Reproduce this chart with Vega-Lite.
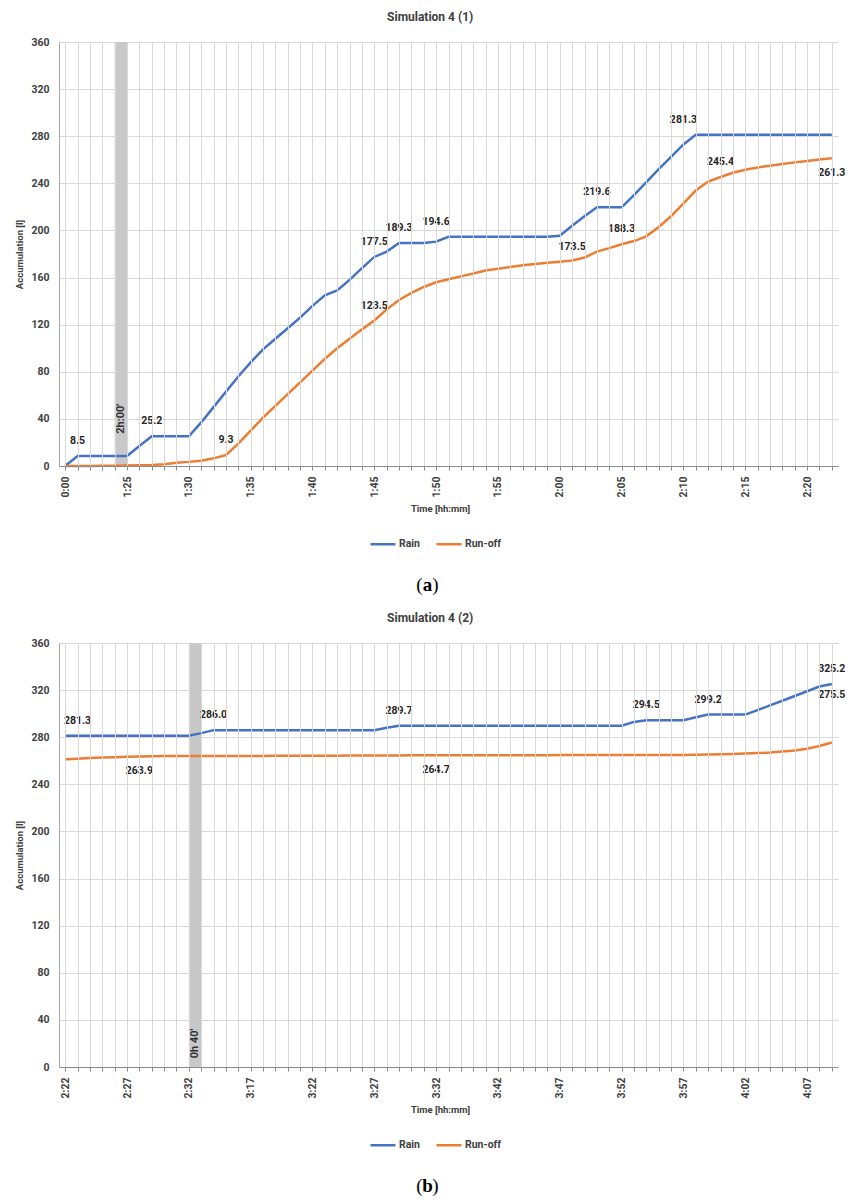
{
  "$schema": "https://vega.github.io/schema/vega-lite/v6.json",
  "background": "white",
  "padding": {"top": 11, "left": 14, "right": 4, "bottom": 0},
  "spacing": 0,
  "config": {
    "font": "Roboto",
    "view": {"stroke": null},
    "title": {"fontSize": 12, "fontWeight": "bold", "color": "#404040", "offset": 13, "anchor": "middle", "frame": "bounds"},
    "axisX": {
      "labelAngle": 270, "labelAlign": "right", "labelBaseline": "middle",
      "labelFontSize": 10.5, "labelFontWeight": "bold", "labelColor": "#404040",
      "labelPadding": 6, "labelOverlap": false,
      "grid": true, "gridColor": "#d9d9d9", "gridWidth": 1,
      "domainColor": "#8c8c8c", "tickColor": "#8c8c8c", "tickSize": 4,
      "titleFontSize": 9.5, "titleFontWeight": "bold", "titleColor": "#404040", "titlePadding": 6, "titleX": 381
    },
    "axisY": {
      "labelFontSize": 10.5, "labelFontWeight": "bold", "labelColor": "#404040",
      "labelPadding": 10, "ticks": false,
      "grid": true, "gridColor": "#d9d9d9", "gridWidth": 1,
      "domainColor": "#a6a6a6",
      "titleFontSize": 9.5, "titleFontWeight": "bold", "titleColor": "#404040", "titlePadding": 6
    },
    "legend": {
      "orient": "none", "legendX": 310, "legendY": 488, "direction": "horizontal",
      "symbolType": "stroke", "symbolSize": 625, "symbolStrokeWidth": 2.5,
      "labelFontSize": 10.5, "labelFontWeight": "bold", "labelColor": "#404040",
      "labelOffset": 2, "columnPadding": 10
    }
  },
  "datasets": {
    "simA": [
      {"time": "0:00", "Rain": 0, "Run-off": 0},
      {"time": "0:01", "Rain": 8.5, "Run-off": 0},
      {"time": "0:02", "Rain": 8.5, "Run-off": 0},
      {"time": "0:03", "Rain": 8.5, "Run-off": 0.2},
      {"time": "0:04", "Rain": 8.5, "Run-off": 0.3},
      {"time": "1:25", "Rain": 8.5, "Run-off": 0.5},
      {"time": "1:26", "Rain": 17, "Run-off": 0.7},
      {"time": "1:27", "Rain": 25.2, "Run-off": 0.9},
      {"time": "1:28", "Rain": 25.2, "Run-off": 1.5},
      {"time": "1:29", "Rain": 25.2, "Run-off": 2.8},
      {"time": "1:30", "Rain": 25.2, "Run-off": 3.5},
      {"time": "1:31", "Rain": 37, "Run-off": 4.5},
      {"time": "1:32", "Rain": 50, "Run-off": 6.5},
      {"time": "1:33", "Rain": 63, "Run-off": 9.3},
      {"time": "1:34", "Rain": 76, "Run-off": 19},
      {"time": "1:35", "Rain": 88, "Run-off": 30},
      {"time": "1:36", "Rain": 99, "Run-off": 41},
      {"time": "1:37", "Rain": 108, "Run-off": 51},
      {"time": "1:38", "Rain": 117, "Run-off": 61},
      {"time": "1:39", "Rain": 126, "Run-off": 71},
      {"time": "1:40", "Rain": 136, "Run-off": 81},
      {"time": "1:41", "Rain": 145, "Run-off": 91},
      {"time": "1:42", "Rain": 149, "Run-off": 100},
      {"time": "1:43", "Rain": 158, "Run-off": 108},
      {"time": "1:44", "Rain": 168, "Run-off": 116},
      {"time": "1:45", "Rain": 177.5, "Run-off": 123.5},
      {"time": "1:46", "Rain": 182, "Run-off": 133},
      {"time": "1:47", "Rain": 189.3, "Run-off": 141},
      {"time": "1:48", "Rain": 189.3, "Run-off": 147},
      {"time": "1:49", "Rain": 189.3, "Run-off": 152},
      {"time": "1:50", "Rain": 190.5, "Run-off": 156},
      {"time": "1:51", "Rain": 194.6, "Run-off": 158.5},
      {"time": "1:52", "Rain": 194.6, "Run-off": 161},
      {"time": "1:53", "Rain": 194.6, "Run-off": 163.5},
      {"time": "1:54", "Rain": 194.6, "Run-off": 166},
      {"time": "1:55", "Rain": 194.6, "Run-off": 167.5},
      {"time": "1:56", "Rain": 194.6, "Run-off": 169},
      {"time": "1:57", "Rain": 194.6, "Run-off": 170.5},
      {"time": "1:58", "Rain": 194.6, "Run-off": 171.5},
      {"time": "1:59", "Rain": 194.6, "Run-off": 172.5},
      {"time": "2:00", "Rain": 195.5, "Run-off": 173.5},
      {"time": "2:01", "Rain": 204, "Run-off": 174.5},
      {"time": "2:02", "Rain": 212, "Run-off": 177},
      {"time": "2:03", "Rain": 219.6, "Run-off": 182},
      {"time": "2:04", "Rain": 219.6, "Run-off": 185},
      {"time": "2:05", "Rain": 219.6, "Run-off": 188.3},
      {"time": "2:06", "Rain": 230, "Run-off": 191},
      {"time": "2:07", "Rain": 241, "Run-off": 195},
      {"time": "2:08", "Rain": 252, "Run-off": 203},
      {"time": "2:09", "Rain": 262.5, "Run-off": 212},
      {"time": "2:10", "Rain": 273, "Run-off": 223},
      {"time": "2:11", "Rain": 281.3, "Run-off": 234},
      {"time": "2:12", "Rain": 281.3, "Run-off": 241.5},
      {"time": "2:13", "Rain": 281.3, "Run-off": 245.4},
      {"time": "2:14", "Rain": 281.3, "Run-off": 249},
      {"time": "2:15", "Rain": 281.3, "Run-off": 251.5},
      {"time": "2:16", "Rain": 281.3, "Run-off": 253.5},
      {"time": "2:17", "Rain": 281.3, "Run-off": 255},
      {"time": "2:18", "Rain": 281.3, "Run-off": 256.5},
      {"time": "2:19", "Rain": 281.3, "Run-off": 257.8},
      {"time": "2:20", "Rain": 281.3, "Run-off": 259},
      {"time": "2:21", "Rain": 281.3, "Run-off": 260.2},
      {"time": "2:22", "Rain": 281.3, "Run-off": 261.3}
    ],
    "simB": [
      {"time": "2:22", "Rain": 281.3, "Run-off": 261.3},
      {"time": "2:23", "Rain": 281.3, "Run-off": 261.8},
      {"time": "2:24", "Rain": 281.3, "Run-off": 262.3},
      {"time": "2:25", "Rain": 281.3, "Run-off": 262.7},
      {"time": "2:26", "Rain": 281.3, "Run-off": 263.1},
      {"time": "2:27", "Rain": 281.3, "Run-off": 263.4},
      {"time": "2:28", "Rain": 281.3, "Run-off": 263.7},
      {"time": "2:29", "Rain": 281.3, "Run-off": 263.9},
      {"time": "2:30", "Rain": 281.3, "Run-off": 264},
      {"time": "2:31", "Rain": 281.3, "Run-off": 264},
      {"time": "2:32", "Rain": 281.3, "Run-off": 264},
      {"time": "3:13", "Rain": 283.5, "Run-off": 264},
      {"time": "3:14", "Rain": 286.0, "Run-off": 264},
      {"time": "3:15", "Rain": 286.0, "Run-off": 264},
      {"time": "3:16", "Rain": 286.0, "Run-off": 264.1},
      {"time": "3:17", "Rain": 286.0, "Run-off": 264.1},
      {"time": "3:18", "Rain": 286.0, "Run-off": 264.1},
      {"time": "3:19", "Rain": 286.0, "Run-off": 264.2},
      {"time": "3:20", "Rain": 286.0, "Run-off": 264.2},
      {"time": "3:21", "Rain": 286.0, "Run-off": 264.2},
      {"time": "3:22", "Rain": 286.0, "Run-off": 264.3},
      {"time": "3:23", "Rain": 286.0, "Run-off": 264.3},
      {"time": "3:24", "Rain": 286.0, "Run-off": 264.3},
      {"time": "3:25", "Rain": 286.0, "Run-off": 264.4},
      {"time": "3:26", "Rain": 286.0, "Run-off": 264.4},
      {"time": "3:27", "Rain": 286.0, "Run-off": 264.4},
      {"time": "3:28", "Rain": 288, "Run-off": 264.5},
      {"time": "3:29", "Rain": 289.7, "Run-off": 264.5},
      {"time": "3:30", "Rain": 289.7, "Run-off": 264.6},
      {"time": "3:31", "Rain": 289.7, "Run-off": 264.6},
      {"time": "3:32", "Rain": 289.7, "Run-off": 264.7},
      {"time": "3:38", "Rain": 289.7, "Run-off": 264.7},
      {"time": "3:39", "Rain": 289.7, "Run-off": 264.7},
      {"time": "3:40", "Rain": 289.7, "Run-off": 264.7},
      {"time": "3:41", "Rain": 289.7, "Run-off": 264.7},
      {"time": "3:42", "Rain": 289.7, "Run-off": 264.7},
      {"time": "3:43", "Rain": 289.7, "Run-off": 264.7},
      {"time": "3:44", "Rain": 289.7, "Run-off": 264.7},
      {"time": "3:45", "Rain": 289.7, "Run-off": 264.7},
      {"time": "3:46", "Rain": 289.7, "Run-off": 264.7},
      {"time": "3:47", "Rain": 289.7, "Run-off": 264.8},
      {"time": "3:48", "Rain": 289.7, "Run-off": 264.8},
      {"time": "3:49", "Rain": 289.7, "Run-off": 264.8},
      {"time": "3:50", "Rain": 289.7, "Run-off": 264.8},
      {"time": "3:51", "Rain": 289.7, "Run-off": 264.8},
      {"time": "3:52", "Rain": 289.7, "Run-off": 264.8},
      {"time": "3:53", "Rain": 293, "Run-off": 264.8},
      {"time": "3:54", "Rain": 294.5, "Run-off": 264.8},
      {"time": "3:55", "Rain": 294.5, "Run-off": 264.9},
      {"time": "3:56", "Rain": 294.5, "Run-off": 264.9},
      {"time": "3:57", "Rain": 294.5, "Run-off": 265},
      {"time": "3:58", "Rain": 297, "Run-off": 265.1},
      {"time": "3:59", "Rain": 299.2, "Run-off": 265.3},
      {"time": "4:00", "Rain": 299.2, "Run-off": 265.5},
      {"time": "4:01", "Rain": 299.2, "Run-off": 265.8},
      {"time": "4:02", "Rain": 299.2, "Run-off": 266.1},
      {"time": "4:03", "Rain": 303, "Run-off": 266.5},
      {"time": "4:04", "Rain": 307, "Run-off": 267},
      {"time": "4:05", "Rain": 311, "Run-off": 267.8},
      {"time": "4:06", "Rain": 315, "Run-off": 268.8},
      {"time": "4:07", "Rain": 319, "Run-off": 270.2},
      {"time": "4:08", "Rain": 323, "Run-off": 272.5},
      {"time": "4:09", "Rain": 325.2, "Run-off": 275.5}
    ],
    "bandA": [{"time": "0:04", "time2": "1:25", "note": "2h:00'"}],
    "bandB": [{"time": "2:32", "time2": "3:13", "note": "0h 40'"}],
    "labAboveA": [
      {"time": "0:01", "value": 8.5},
      {"time": "1:27", "value": 25.2},
      {"time": "1:33", "value": 9.3},
      {"time": "1:45", "value": 123.5},
      {"time": "1:45", "value": 177.5},
      {"time": "1:47", "value": 189.3},
      {"time": "1:50", "value": 194.6},
      {"time": "2:01", "value": 173.5},
      {"time": "2:03", "value": 219.6},
      {"time": "2:05", "value": 188.3},
      {"time": "2:10", "value": 281.3},
      {"time": "2:13", "value": 245.4}
    ],
    "labBelowA": [
      {"time": "2:22", "value": 261.3}
    ],
    "labAboveB": [
      {"time": "2:23", "value": 281.3},
      {"time": "3:14", "value": 286.0},
      {"time": "3:29", "value": 289.7},
      {"time": "3:54", "value": 294.5},
      {"time": "3:59", "value": 299.2},
      {"time": "4:09", "value": 325.2}
    ],
    "labFarB": [
      {"time": "4:09", "value": 275.5}
    ],
    "labBelowB": [
      {"time": "2:28", "value": 263.9},
      {"time": "3:32", "value": 264.7}
    ],
    "capA": [{"panel": "a"}],
    "capB": [{"panel": "b"}]
  },
  "vconcat": [
    {
      "width": 785, "height": 424,
      "title": "Simulation 4 (1)",
      "layer": [
        {
          "data": {"name": "bandA"},
          "mark": {"type": "rect", "color": "#c8c8c8"},
          "encoding": {
            "x": {"field": "time", "type": "ordinal", "title": "Time [hh:mm]"},
            "x2": {"field": "time2"}
          }
        },
        {
          "data": {"name": "simA"},
          "transform": [{"fold": ["Rain", "Run-off"], "as": ["series", "value"]}],
          "mark": {"type": "line", "strokeWidth": 2.5},
          "encoding": {
            "x": {"field": "time", "type": "ordinal", "title": "Time [hh:mm]",
                  "scale": {"type": "point", "range": [0, 779]},
                  "axis": {"labelExpr": "(slice(datum.value, -1) == '0' || slice(datum.value, -1) == '5') ? datum.value : ''"}},
            "y": {"field": "value", "type": "quantitative", "title": "Accumulation [l]",
                  "scale": {"domain": [0, 360], "nice": false},
                  "axis": {"values": [0, 40, 80, 120, 160, 200, 240, 280, 320, 360]}},
            "color": {"field": "series", "type": "nominal",
                      "scale": {"domain": ["Rain", "Run-off"], "range": ["#4472C4", "#ED7D31"]},
                      "legend": {"title": null}}
          }
        },
        {
          "data": {"name": "bandA"},
          "mark": {"type": "text", "angle": 270, "fontSize": 11, "fontWeight": "bold", "color": "#333333", "align": "center", "baseline": "middle", "dy": 6.3},
          "encoding": {
            "x": {"field": "time", "type": "ordinal", "title": "Time [hh:mm]"},
            "y": {"datum": 40, "type": "quantitative", "title": "Accumulation [l]"},
            "text": {"field": "note"}
          }
        },
        {
          "data": {"name": "labAboveA"},
          "mark": {"type": "text", "fontSize": 10.5, "fontWeight": "bold", "color": "#262626", "dy": -15},
          "encoding": {
            "x": {"field": "time", "type": "ordinal", "title": "Time [hh:mm]"},
            "y": {"field": "value", "type": "quantitative", "title": "Accumulation [l]"},
            "text": {"field": "value", "type": "quantitative", "format": ".1f"}
          }
        },
        {
          "data": {"name": "labBelowA"},
          "mark": {"type": "text", "fontSize": 10.5, "fontWeight": "bold", "color": "#262626", "dy": 15},
          "encoding": {
            "x": {"field": "time", "type": "ordinal", "title": "Time [hh:mm]"},
            "y": {"field": "value", "type": "quantitative", "title": "Accumulation [l]"},
            "text": {"field": "value", "type": "quantitative", "format": ".1f"}
          }
        }
      ]
    },
    {
      "width": 785, "height": 62,
      "data": {"name": "capA"},
      "layer": [
        {"mark": {"type": "text", "text": "(", "font": "Liberation Serif", "fontSize": 19, "dx": -32, "dy": 4, "baseline": "middle"}, "encoding": {}},
        {"mark": {"type": "text", "font": "Liberation Serif", "fontSize": 19, "fontWeight": "bold", "dx": -24, "dy": 4, "baseline": "middle"}, "encoding": {"text": {"field": "panel"}}},
        {"mark": {"type": "text", "text": ")", "font": "Liberation Serif", "fontSize": 19, "dx": -16, "dy": 4, "baseline": "middle"}, "encoding": {}}
      ]
    },
    {
      "width": 785, "height": 424,
      "title": "Simulation 4 (2)",
      "layer": [
        {
          "data": {"name": "bandB"},
          "mark": {"type": "rect", "color": "#c8c8c8"},
          "encoding": {
            "x": {"field": "time", "type": "ordinal", "title": "Time [hh:mm]"},
            "x2": {"field": "time2"}
          }
        },
        {
          "data": {"name": "simB"},
          "transform": [{"fold": ["Rain", "Run-off"], "as": ["series", "value"]}],
          "mark": {"type": "line", "strokeWidth": 2.5},
          "encoding": {
            "x": {"field": "time", "type": "ordinal", "title": "Time [hh:mm]",
                  "scale": {"type": "point", "range": [0, 779]},
                  "axis": {"labelExpr": "(slice(datum.value, -1) == '2' || slice(datum.value, -1) == '7') ? datum.value : ''"}},
            "y": {"field": "value", "type": "quantitative", "title": "Accumulation [l]",
                  "scale": {"domain": [0, 360], "nice": false},
                  "axis": {"values": [0, 40, 80, 120, 160, 200, 240, 280, 320, 360]}},
            "color": {"field": "series", "type": "nominal",
                      "scale": {"domain": ["Rain", "Run-off"], "range": ["#4472C4", "#ED7D31"]},
                      "legend": {"title": null}}
          }
        },
        {
          "data": {"name": "bandB"},
          "mark": {"type": "text", "angle": 270, "fontSize": 11, "fontWeight": "bold", "color": "#333333", "align": "center", "baseline": "middle", "dy": 6.3},
          "encoding": {
            "x": {"field": "time", "type": "ordinal", "title": "Time [hh:mm]"},
            "y": {"datum": 20, "type": "quantitative", "title": "Accumulation [l]"},
            "text": {"field": "note"}
          }
        },
        {
          "data": {"name": "labAboveB"},
          "mark": {"type": "text", "fontSize": 10.5, "fontWeight": "bold", "color": "#262626", "dy": -15},
          "encoding": {
            "x": {"field": "time", "type": "ordinal", "title": "Time [hh:mm]"},
            "y": {"field": "value", "type": "quantitative", "title": "Accumulation [l]"},
            "text": {"field": "value", "type": "quantitative", "format": ".1f"}
          }
        },
        {
          "data": {"name": "labFarB"},
          "mark": {"type": "text", "fontSize": 10.5, "fontWeight": "bold", "color": "#262626", "dy": -48},
          "encoding": {
            "x": {"field": "time", "type": "ordinal", "title": "Time [hh:mm]"},
            "y": {"field": "value", "type": "quantitative", "title": "Accumulation [l]"},
            "text": {"field": "value", "type": "quantitative", "format": ".1f"}
          }
        },
        {
          "data": {"name": "labBelowB"},
          "mark": {"type": "text", "fontSize": 10.5, "fontWeight": "bold", "color": "#262626", "dy": 15},
          "encoding": {
            "x": {"field": "time", "type": "ordinal", "title": "Time [hh:mm]"},
            "y": {"field": "value", "type": "quantitative", "title": "Accumulation [l]"},
            "text": {"field": "value", "type": "quantitative", "format": ".1f"}
          }
        }
      ]
    },
    {
      "width": 785, "height": 62,
      "data": {"name": "capB"},
      "layer": [
        {"mark": {"type": "text", "text": "(", "font": "Liberation Serif", "fontSize": 19, "dx": -32, "dy": 4, "baseline": "middle"}, "encoding": {}},
        {"mark": {"type": "text", "font": "Liberation Serif", "fontSize": 19, "fontWeight": "bold", "dx": -24, "dy": 4, "baseline": "middle"}, "encoding": {"text": {"field": "panel"}}},
        {"mark": {"type": "text", "text": ")", "font": "Liberation Serif", "fontSize": 19, "dx": -16, "dy": 4, "baseline": "middle"}, "encoding": {}}
      ]
    }
  ],
  "resolve": {"scale": {"x": "independent", "color": "independent"}, "legend": {"color": "independent"}}
}
